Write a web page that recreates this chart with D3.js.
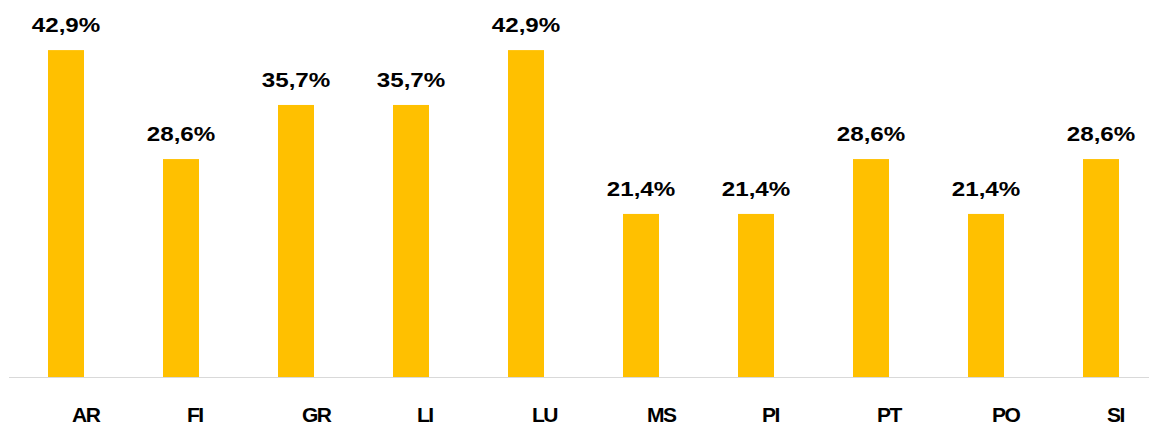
<!DOCTYPE html>
<html>
<head>
<meta charset="utf-8">
<script src="https://cdn.jsdelivr.net/npm/d3@7"></script>
<style>
  body { margin: 0; background: #fff; }
</style>
</head>
<body>
<div id="chart"></div>
<script>
const categories = ["AR", "FI", "GR", "LI", "LU", "MS", "PI", "PT", "PO", "SI"];
const values = [42.9, 28.6, 35.7, 35.7, 42.9, 21.4, 21.4, 28.6, 21.4, 28.6];

const width = 1149;
const height = 427;
const baseY = 377;

const svg = d3.select("#chart")
  .append("svg")
  .attr("width", width)
  .attr("height", height)
  .attr("viewBox", [0, 0, width, height]);

const x = d3.scaleBand()
  .domain(categories)
  .range([8.5, 1158.5])
  .paddingInner(0.687)
  .paddingOuter(0.3435);

const y = d3.scaleLinear()
  .domain([0, 45])
  .range([baseY, baseY - 45 * 7.62]);

const fmt = v => d3.format(".1f")(v).replace(".", ",") + "%";

// bars
svg.append("g")
  .attr("fill", "#FFC000")
  .selectAll("rect")
  .data(values)
  .join("rect")
  .attr("x", (d, i) => x(categories[i]))
  .attr("y", d => y(d))
  .attr("width", x.bandwidth())
  .attr("height", d => y(0) - y(d));

// baseline
svg.append("line")
  .attr("x1", 9)
  .attr("x2", width)
  .attr("y1", baseY + 0.5)
  .attr("y2", baseY + 0.5)
  .attr("stroke", "#d9d9d9")
  .attr("stroke-width", 1.2);

// value labels
svg.append("g")
  .selectAll("text")
  .data(values)
  .join("text")
  .attr("transform", (d, i) =>
    `translate(${x(categories[i]) + x.bandwidth() / 2},${y(d) - 18}) scale(1.15,1)`)
  .attr("text-anchor", "middle")
  .attr("font-family", "Liberation Sans, Arial, sans-serif")
  .attr("font-weight", "bold")
  .attr("font-size", "21px")
  .attr("fill", "#000")
  .text(d => fmt(d));

// category labels
svg.append("g")
  .selectAll("text")
  .data(categories)
  .join("text")
  .attr("x", d => x(d) + x.bandwidth() / 2 + 6)
  .attr("y", 422)
  .attr("font-family", "Liberation Sans, Arial, sans-serif")
  .attr("font-weight", "bold")
  .attr("font-size", "21px")
  .attr("letter-spacing", "-1.5px")
  .attr("fill", "#000")
  .text(d => d);
</script>
</body>
</html>
